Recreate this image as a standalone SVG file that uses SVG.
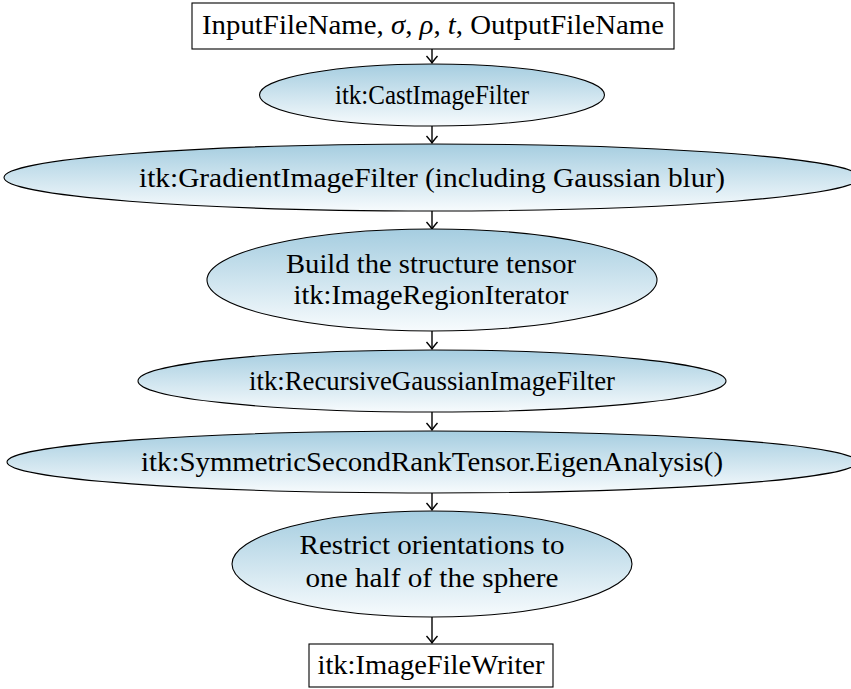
<svg xmlns="http://www.w3.org/2000/svg" width="851" height="689" viewBox="0 0 851 689">
  <style>
    .box { fill: #ffffff; stroke: #000000; stroke-width: 1.1; }
    .proc { fill: url(#shade); stroke: #000000; stroke-width: 1.1; }
    .lbl { font-family: "Liberation Serif", "Times New Roman", serif; font-size: 27.5px; fill: #000000; text-anchor: middle; }
    .math { font-style: italic; }
    .edge { stroke: #000000; stroke-width: 1.4; fill: none; marker-end: url(#tip); }
  </style>
  <defs>
    <linearGradient id="shade" x1="0" y1="0" x2="0" y2="1">
      <stop offset="0" stop-color="#a5cde0"/>
      <stop offset="1" stop-color="#f7fbfd"/>
    </linearGradient>
    <!-- curved open arrow tip, drawn pointing along +x -->
    <marker id="tip" viewBox="-9 -7 11 14" refX="0" refY="0" markerWidth="11" markerHeight="14" markerUnits="userSpaceOnUse" orient="auto">
      <path d="M -7,-5.5 Q -2.5,-1.5 0,0 Q -2.5,1.5 -7,5.5" stroke="#000000" stroke-width="1.4" fill="none"/>
    </marker>
  </defs>

  <!-- connectors -->
  <g id="edges">
    <line class="edge" x1="432" y1="49" x2="432" y2="63"/>
    <line class="edge" x1="432" y1="126" x2="432" y2="143"/>
    <line class="edge" x1="432" y1="211" x2="432" y2="229"/>
    <line class="edge" x1="432" y1="331" x2="432" y2="349"/>
    <line class="edge" x1="432" y1="412" x2="432" y2="430"/>
    <line class="edge" x1="432" y1="493" x2="432" y2="510"/>
    <line class="edge" x1="432" y1="617" x2="432" y2="643"/>
  </g>

  <g id="input">
    <rect class="box" x="192" y="3" width="482" height="46"/>
    <text class="lbl" x="433" y="34" textLength="462" lengthAdjust="spacingAndGlyphs">InputFileName, <tspan class="math">σ</tspan>, <tspan class="math">ρ</tspan>, <tspan class="math">t</tspan>, OutputFileName</text>
  </g>

  <g id="cast">
    <ellipse class="proc" cx="432" cy="95" rx="172.5" ry="31"/>
    <text class="lbl" x="432" y="104" textLength="194" lengthAdjust="spacingAndGlyphs">itk:CastImageFilter</text>
  </g>

  <g id="gradient">
    <ellipse class="proc" cx="432" cy="177.5" rx="428" ry="33.5"/>
    <text class="lbl" x="432" y="187" textLength="586" lengthAdjust="spacingAndGlyphs">itk:GradientImageFilter (including Gaussian blur)</text>
  </g>

  <g id="structure">
    <ellipse class="proc" cx="432" cy="280" rx="225" ry="51"/>
    <text class="lbl" x="431" y="273" textLength="290" lengthAdjust="spacingAndGlyphs">Build the structure tensor</text>
    <text class="lbl" x="431" y="304" textLength="275" lengthAdjust="spacingAndGlyphs">itk:ImageRegionIterator</text>
  </g>

  <g id="recursive">
    <ellipse class="proc" cx="432" cy="381" rx="294" ry="31"/>
    <text class="lbl" x="432" y="390" textLength="366" lengthAdjust="spacingAndGlyphs">itk:RecursiveGaussianImageFilter</text>
  </g>

  <g id="eigen">
    <ellipse class="proc" cx="432" cy="462" rx="425" ry="31"/>
    <text class="lbl" x="432" y="471" textLength="582" lengthAdjust="spacingAndGlyphs">itk:SymmetricSecondRankTensor.EigenAnalysis()</text>
  </g>

  <g id="restrict">
    <ellipse class="proc" cx="432" cy="564" rx="200" ry="53"/>
    <text class="lbl" x="432" y="554" textLength="265" lengthAdjust="spacingAndGlyphs">Restrict orientations to</text>
    <text class="lbl" x="432" y="587" textLength="253" lengthAdjust="spacingAndGlyphs">one half of the sphere</text>
  </g>

  <g id="writer">
    <rect class="box" x="309" y="644" width="244" height="43"/>
    <text class="lbl" x="431" y="674" textLength="227" lengthAdjust="spacingAndGlyphs">itk:ImageFileWriter</text>
  </g>
</svg>
